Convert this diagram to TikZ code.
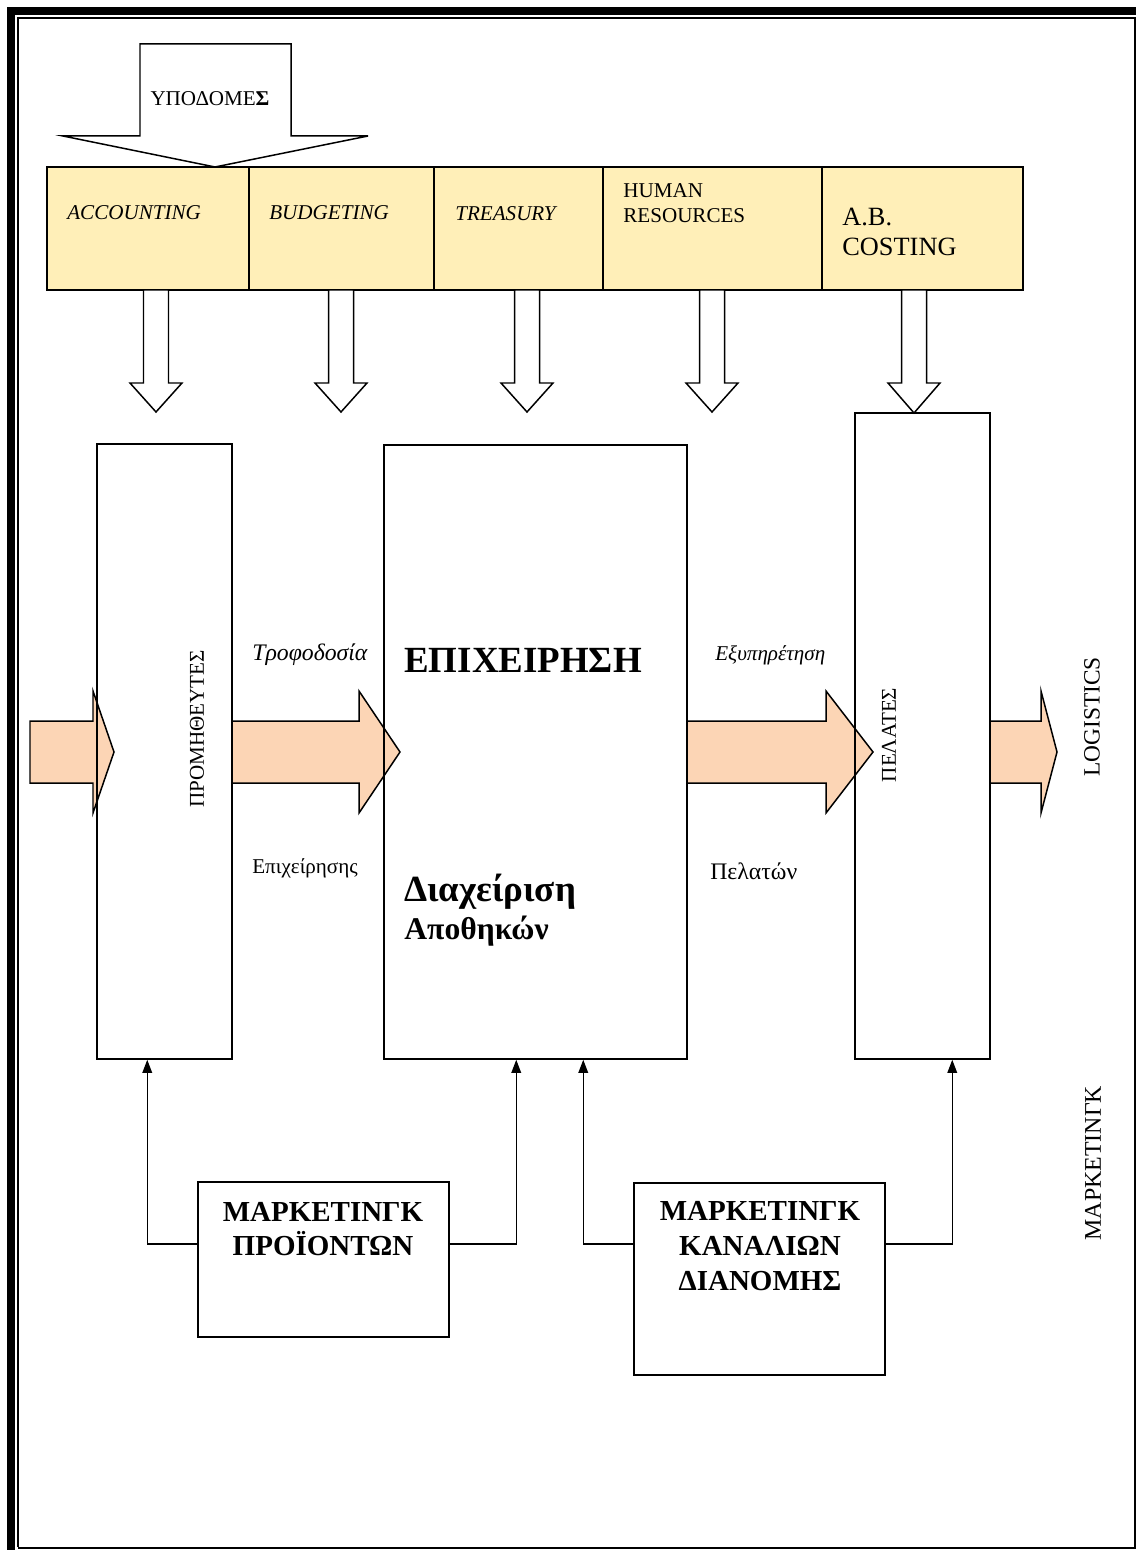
\documentclass[tikz,border=0pt]{standalone}
\usepackage{fontspec}
\setmainfont{Liberation Serif}
\usetikzlibrary{calc}
\usetikzlibrary{arrows.meta}
\usetikzlibrary{fit}

\definecolor{barfill}{RGB}{255,239,184}
\definecolor{flowfill}{RGB}{252,213,181}

\begin{document}
\begin{tikzpicture}[x=0.02cm,y=-0.02cm,
  box/.style={draw=black, line width=0.85pt, inner sep=0pt},
  cell/.style={box, fill=barfill},
  txt/.style={inner sep=0pt, font=\fontsize{12}{14.4}\selectfont},
  link/.style={line width=0.8pt, -{Triangle[length=7.5pt,width=5.5pt]}}]

\useasboundingbox (0,0) rectangle (1136,1550);

\draw[line width=4.5pt] (11,1550) -- (11,11) -- (1136,11);
\draw[line width=0.6pt] (18,1547) -- (18,18) -- (1135,18) -- (1135,1547);
\draw[line width=1.6pt] (18,1548) -- (1136,1548);

\draw[box, fill=white] (140,44) -- (291,44) -- (291,136) -- (368,136) -- (215,167)
  -- (63,136) -- (140,136) -- cycle;
\node[txt] (infra) at (210,99) {ΥΠΟΔΟΜΕ\textbf{Σ}};

\node[cell, fit={(47,167)(249,290)}] (acc) {};
\node[cell, fit={(249,167)(434,290)}] (bud) {};
\node[cell, fit={(434,167)(603,290)}] (tre) {};
\node[cell, fit={(603,167)(822,290)}] (hum) {};
\node[cell, fit={(822,167)(1023,290)}] (abc) {};

\node[txt, anchor=west] (tacc) at (67,213) {\textit{ACCOUNTING}};
\node[txt, anchor=west] (tbud) at (269,213) {\textit{BUDGETING}};
\node[txt, anchor=west] (ttre) at (455,214) {\textit{TREASURY}};
\node[txt, anchor=west, align=left] (thum) at (623,203) {HUMAN\\RESOURCES};
\node[txt, anchor=west, align=left, font=\fontsize{15}{17}\selectfont] (tabc) at (842,232) {A.B.\\COSTING};

\foreach \cx/\tip in {156/412, 341/412, 527/412, 712/412, 914/413}
  \draw[box, fill=white] (\cx-12.5,290) -- (\cx+12.5,290) -- (\cx+12.5,383) -- (\cx+26,383)
    -- (\cx,\tip) -- (\cx-26,383) -- (\cx-12.5,383) -- cycle;

\foreach \xa/\xb/\xc in {30/93/114, 232/359/400, 687/826/873, 990/1041/1057}
  \draw[box, fill=flowfill] (\xa,721) -- (\xb,721) -- (\xb,691) -- (\xc,752) -- (\xb,813)
    -- (\xb,783) -- (\xa,783) -- cycle;

\node[box, fit={(97,444)(232,1059)}] (prom) {};
\node[box, fit={(384,445)(687,1059)}] (epix) {};
\node[box, fit={(855,413)(990,1059)}] (pel) {};

\node[txt, rotate=90] (tprom) at (197,729) {ΠΡΟΜΗΘΕΥΤΕΣ};
\node[txt, rotate=90, font=\fontsize{12}{14}\selectfont] (tpel) at (889,735) {ΠΕΛΑΤΕΣ};
\node[txt, rotate=90, font=\fontsize{13.3}{15}\selectfont] (tlog) at (1092,717) {LOGISTICS};
\node[txt, rotate=90, font=\fontsize{13.6}{15}\selectfont] (tmark) at (1093,1163) {ΜΑΡΚΕΤΙΝΓΚ};

\node[txt, anchor=west, font=\fontsize{13.5}{15}\selectfont] (ttrof) at (252,655) {\textit{Τροφοδοσία}};
\node[txt, anchor=west] (tepih) at (252,868) {Επιχείρησης};
\node[txt, anchor=west] (texyp) at (715,655) {\textit{Εξυπηρέτηση}};
\node[txt, anchor=west, font=\fontsize{13.5}{15}\selectfont] (tpelw) at (710,871) {Πελατών};

\node[txt, anchor=west, font=\fontsize{21}{25}\bfseries] (tepix) at (404,660) {ΕΠΙΧΕΙΡΗΣΗ};
\node[txt, anchor=west, font=\fontsize{21}{25}\bfseries] (tdiax) at (404,892) {Διαχείριση};
\node[txt, anchor=west, font=\fontsize{18}{21}\bfseries] (tapoth) at (404,931) {Αποθηκών};

\node[box, fit={(198,1182)(449,1337)}] (mprod) {};
\node[box, fit={(634,1183)(885,1375)}] (mchan) {};

\node[txt, align=center, font=\fontsize{16.5}{19.8}\bfseries] (tmprod) at (323,1229) {ΜΑΡΚΕΤΙΝΓΚ\\ΠΡΟΪΟΝΤΩΝ};
\node[txt, align=center, font=\fontsize{16.5}{19.8}\bfseries] (tmchan) at (760,1246) {ΜΑΡΚΕΤΙΝΓΚ\\ΚΑΝΑΛΙΩΝ\\ΔΙΑΝΟΜΗΣ};

\draw[link] (mprod.west |- 0,1244) -| ($(prom.south west)+(51,0)$);
\draw[link] (mprod.east |- 0,1244) -| ($(epix.south west)+(133,0)$);
\draw[link] (mchan.west |- 0,1244) -| ($(epix.south west)+(200,0)$);
\draw[link] (mchan.east |- 0,1244) -| ($(pel.south west)+(98,0)$);

\end{tikzpicture}
\end{document}
